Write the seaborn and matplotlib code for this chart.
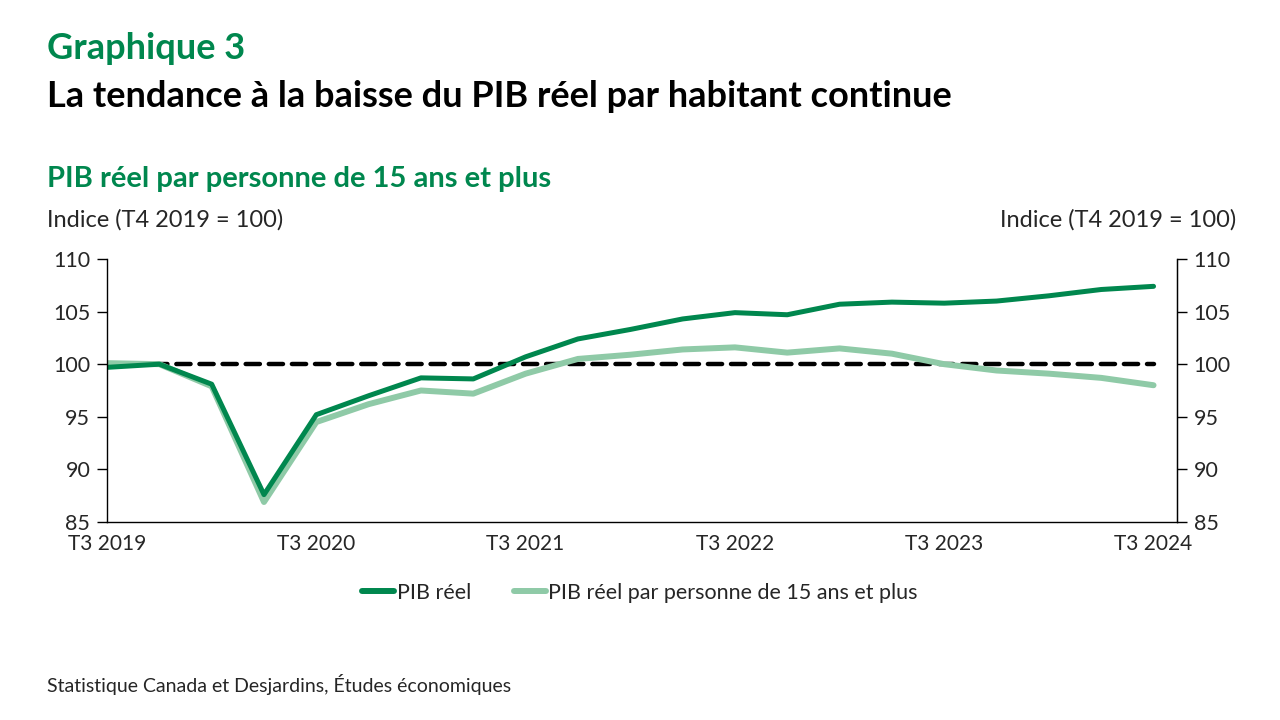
import matplotlib
matplotlib.use("Agg")
import matplotlib.pyplot as plt
from matplotlib.lines import Line2D
import seaborn as sns
import pandas as pd
import numpy as np

# quarters T3 2019 .. T3 2024
quarters = ["T3 2019", "T4 2019", "T1 2020", "T2 2020", "T3 2020", "T4 2020",
            "T1 2021", "T2 2021", "T3 2021", "T4 2021", "T1 2022", "T2 2022",
            "T3 2022", "T4 2022", "T1 2023", "T2 2023", "T3 2023", "T4 2023",
            "T1 2024", "T2 2024", "T3 2024"]
pib_reel = [99.7, 100.0, 98.1, 87.6, 95.2, 97.0, 98.7, 98.6, 100.7, 102.4, 103.3,
            104.3, 104.9, 104.7, 105.7, 105.9, 105.8, 106.0, 106.5, 107.1, 107.4]
pib_15plus = [100.1, 100.0, 97.9, 86.9, 94.5, 96.2, 97.5, 97.2, 99.1, 100.5, 100.9,
              101.4, 101.6, 101.1, 101.5, 101.0, 100.0, 99.4, 99.1, 98.7, 98.0]
reference = [100.0] * len(quarters)
tick_labels = ["T3 2019", "T3 2020", "T3 2021", "T3 2022", "T3 2023", "T3 2024"]

series_names = ["PIB réel", "PIB réel par personne de 15 ans et plus"]
dark_green = "#00874e"
light_green = "#8fcaa7"

df = pd.DataFrame({
    "x": list(range(len(quarters))) * 2,
    "valeur": pib_reel + pib_15plus,
    "serie": [series_names[0]] * len(quarters) + [series_names[1]] * len(quarters),
})

sns.set_style("white")
plt.rcParams['font.family'] = ['Lato', 'DejaVu Sans']

fig = plt.figure(figsize=(12.8, 7.2), dpi=100)
ax = fig.add_axes([0.0836, 0.275, 0.836, 0.3653])

# reference line at 100
ax.plot(range(len(quarters)), reference, color="black", lw=3.2, ls=(0, (3.2, 2.0)),
        dash_capstyle="round", zorder=1)

sns.lineplot(data=df, x="x", y="valeur", hue="serie", hue_order=series_names[::-1],
             palette={series_names[0]: dark_green, series_names[1]: light_green},
             ax=ax, legend=False, zorder=2)
lines = ax.get_lines()
lines[1].set_linewidth(4.3)
lines[1].set_solid_capstyle("round")
lines[2].set_linewidth(3.6)
lines[2].set_solid_capstyle("round")

ax.set_xlim(0, 20.45)
ax.set_ylim(85, 110)
ax.set_yticks(np.arange(85, 111, 5))
ax.set_xticks([quarters.index(t) for t in tick_labels])
ax.set_xticklabels(tick_labels)
ax.set_xlabel("")
ax.set_ylabel("")
ax.tick_params(axis="x", length=0, pad=9, labelsize=15)
ax.tick_params(axis="y", length=7, width=1, color="black", pad=5, labelsize=15.5,
               direction="out", left=True)
ax.spines["top"].set_visible(False)
for side in ["left", "bottom", "right"]:
    ax.spines[side].set_color("black")
    ax.spines[side].set_linewidth(1)

ax2 = ax.twinx()
ax2.set_ylim(85, 110)
ax2.set_yticks(np.arange(85, 111, 5))
ax2.tick_params(axis="y", length=7, width=1, color="black", pad=5, labelsize=15.5,
                direction="out")
for side in ["top", "left", "bottom"]:
    ax2.spines[side].set_visible(False)
ax2.spines["right"].set_color("black")
ax2.grid(False)

# legend
handles = [Line2D([], [], color=dark_green, lw=4.3, solid_capstyle="round"),
           Line2D([], [], color=light_green, lw=4.3, solid_capstyle="round")]
fig.legend(handles, series_names, loc="center", bbox_to_anchor=(0.5, 0.177),
           ncol=2, frameon=False, fontsize=15.5, handlelength=1.5, handletextpad=0.1,
           columnspacing=2.0)

# titles
fig.text(0.037, 0.932, "Graphique 3", color=dark_green, fontsize=26,
         fontweight="bold", va="center")
fig.text(0.037, 0.866, "La tendance à la baisse du PIB réel par habitant continue",
         color="black", fontsize=26, fontweight="bold", va="center")
fig.text(0.037, 0.752, "PIB réel par personne de 15 ans et plus", color=dark_green,
         fontsize=21, fontweight="bold", va="center")
fig.text(0.037, 0.695, "Indice (T4 2019 = 100)", fontsize=17, va="center")
fig.text(0.966, 0.695, "Indice (T4 2019 = 100)", fontsize=17, va="center", ha="right")
fig.text(0.037, 0.049, "Statistique Canada et Desjardins, Études économiques",
         fontsize=14, va="center")

fig.savefig("out.png", dpi=100)
